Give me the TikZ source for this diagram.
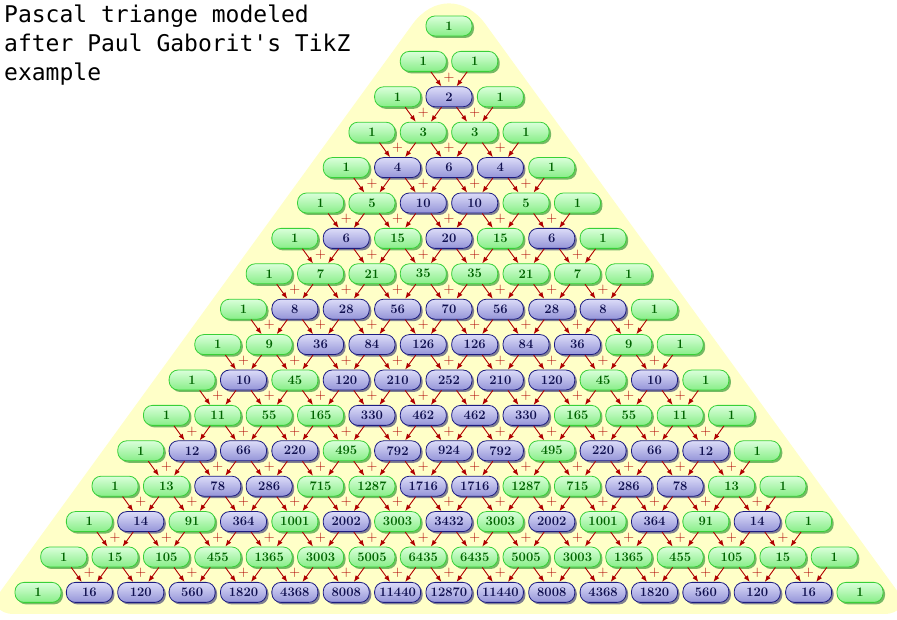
\documentclass[tikz,border=0pt]{standalone}
\usepackage{fontspec}
\newfontfamily\titlefont{DejaVu Sans Mono}
\usetikzlibrary{shadows,arrows.meta,calc}
\definecolor{bgyellow}{HTML}{FFFFC8}
\definecolor{gborder}{HTML}{38D038}
\definecolor{gtop}{HTML}{DAFFDA}
\definecolor{gbot}{HTML}{88EE88}
\definecolor{gtext}{HTML}{006400}
\definecolor{gshadow}{HTML}{3C9C3C}
\definecolor{btop}{HTML}{DCDCF8}
\definecolor{bbot}{HTML}{9494D8}
\definecolor{bborder}{HTML}{1C1C80}
\definecolor{btext}{HTML}{101050}
\definecolor{bshadow}{HTML}{4A4A7A}
\definecolor{arrowred}{HTML}{B00000}
\tikzset{
  pbox/.style={rounded corners=9pt, minimum width=46pt, minimum height=20pt,
    inner sep=1pt, line width=0.8pt, font=\fontsize{13}{13}\selectfont\bfseries},
  oddbox/.style={pbox, draw=gborder, top color=gtop, bottom color=gbot, text=gtext,
    drop shadow={shadow xshift=2pt, shadow yshift=-2pt, fill=gshadow, opacity=0.7}},
  evenbox/.style={pbox, draw=bborder, top color=btop, bottom color=bbot, text=btext,
    drop shadow={shadow xshift=2pt, shadow yshift=-2pt, fill=bshadow, opacity=0.7}},
  link/.style={draw=arrowred, line width=0.9pt, -{Latex[length=6.5pt,width=5pt]}},
  plussign/.style={text=arrowred, font=\fontsize{15}{15}\selectfont, inner sep=0pt},
  titletext/.style={anchor=base west, inner sep=0pt, font=\titlefont\fontsize{23}{28}\selectfont}
}
\begin{document}
\begin{tikzpicture}[x=1pt,y=1pt]
\useasboundingbox (0,0) rectangle (897,620);
\begin{scope}
\clip (0,0) rectangle (897,620);
\fill[bgyellow] (449,6) [rounded corners=30pt] -- (914,6) [rounded corners=62pt] -- (449,646) [rounded corners=30pt] -- (-16,6) -- cycle;
\end{scope}
\node[titletext] (t1) at (4,597) {Pascal triange modeled};
\node[titletext] (t2) at (4,568) {after Paul Gaborit's TikZ};
\node[titletext] (t3) at (4,539) {example};
\foreach \r in {0,...,16}{
  \foreach \k in {0,...,\r}{
    \ifnum\k=0 \xdef\cval{1}\else \xdef\cval{\the\numexpr\cval*(\r-\k+1)/\k\relax}\fi
    \pgfmathsetmacro\xx{449+(\k-\r/2)*51.375}
    \pgfmathsetmacro\yy{594-35.4*\r}
    \ifodd\cval
      \node[oddbox] (n-\r-\k) at (\xx,\yy) {\cval};
    \else
      \node[evenbox] (n-\r-\k) at (\xx,\yy) {\cval};
    \fi
  }
}
\foreach \r in {2,...,16}{
  \pgfmathtruncatemacro\pr{\r-1}
  \foreach \k in {1,...,\pr}{
    \pgfmathtruncatemacro\pk{\k-1}
    \draw[link] (n-\pr-\pk) -- (n-\r-\k);
    \draw[link] (n-\pr-\k) -- (n-\r-\k);
    \node[plussign] (p-\r-\k) at ($(n-\r-\k.center)+(0,19.5)$) {+};
  }
}
\end{tikzpicture}
\end{document}
